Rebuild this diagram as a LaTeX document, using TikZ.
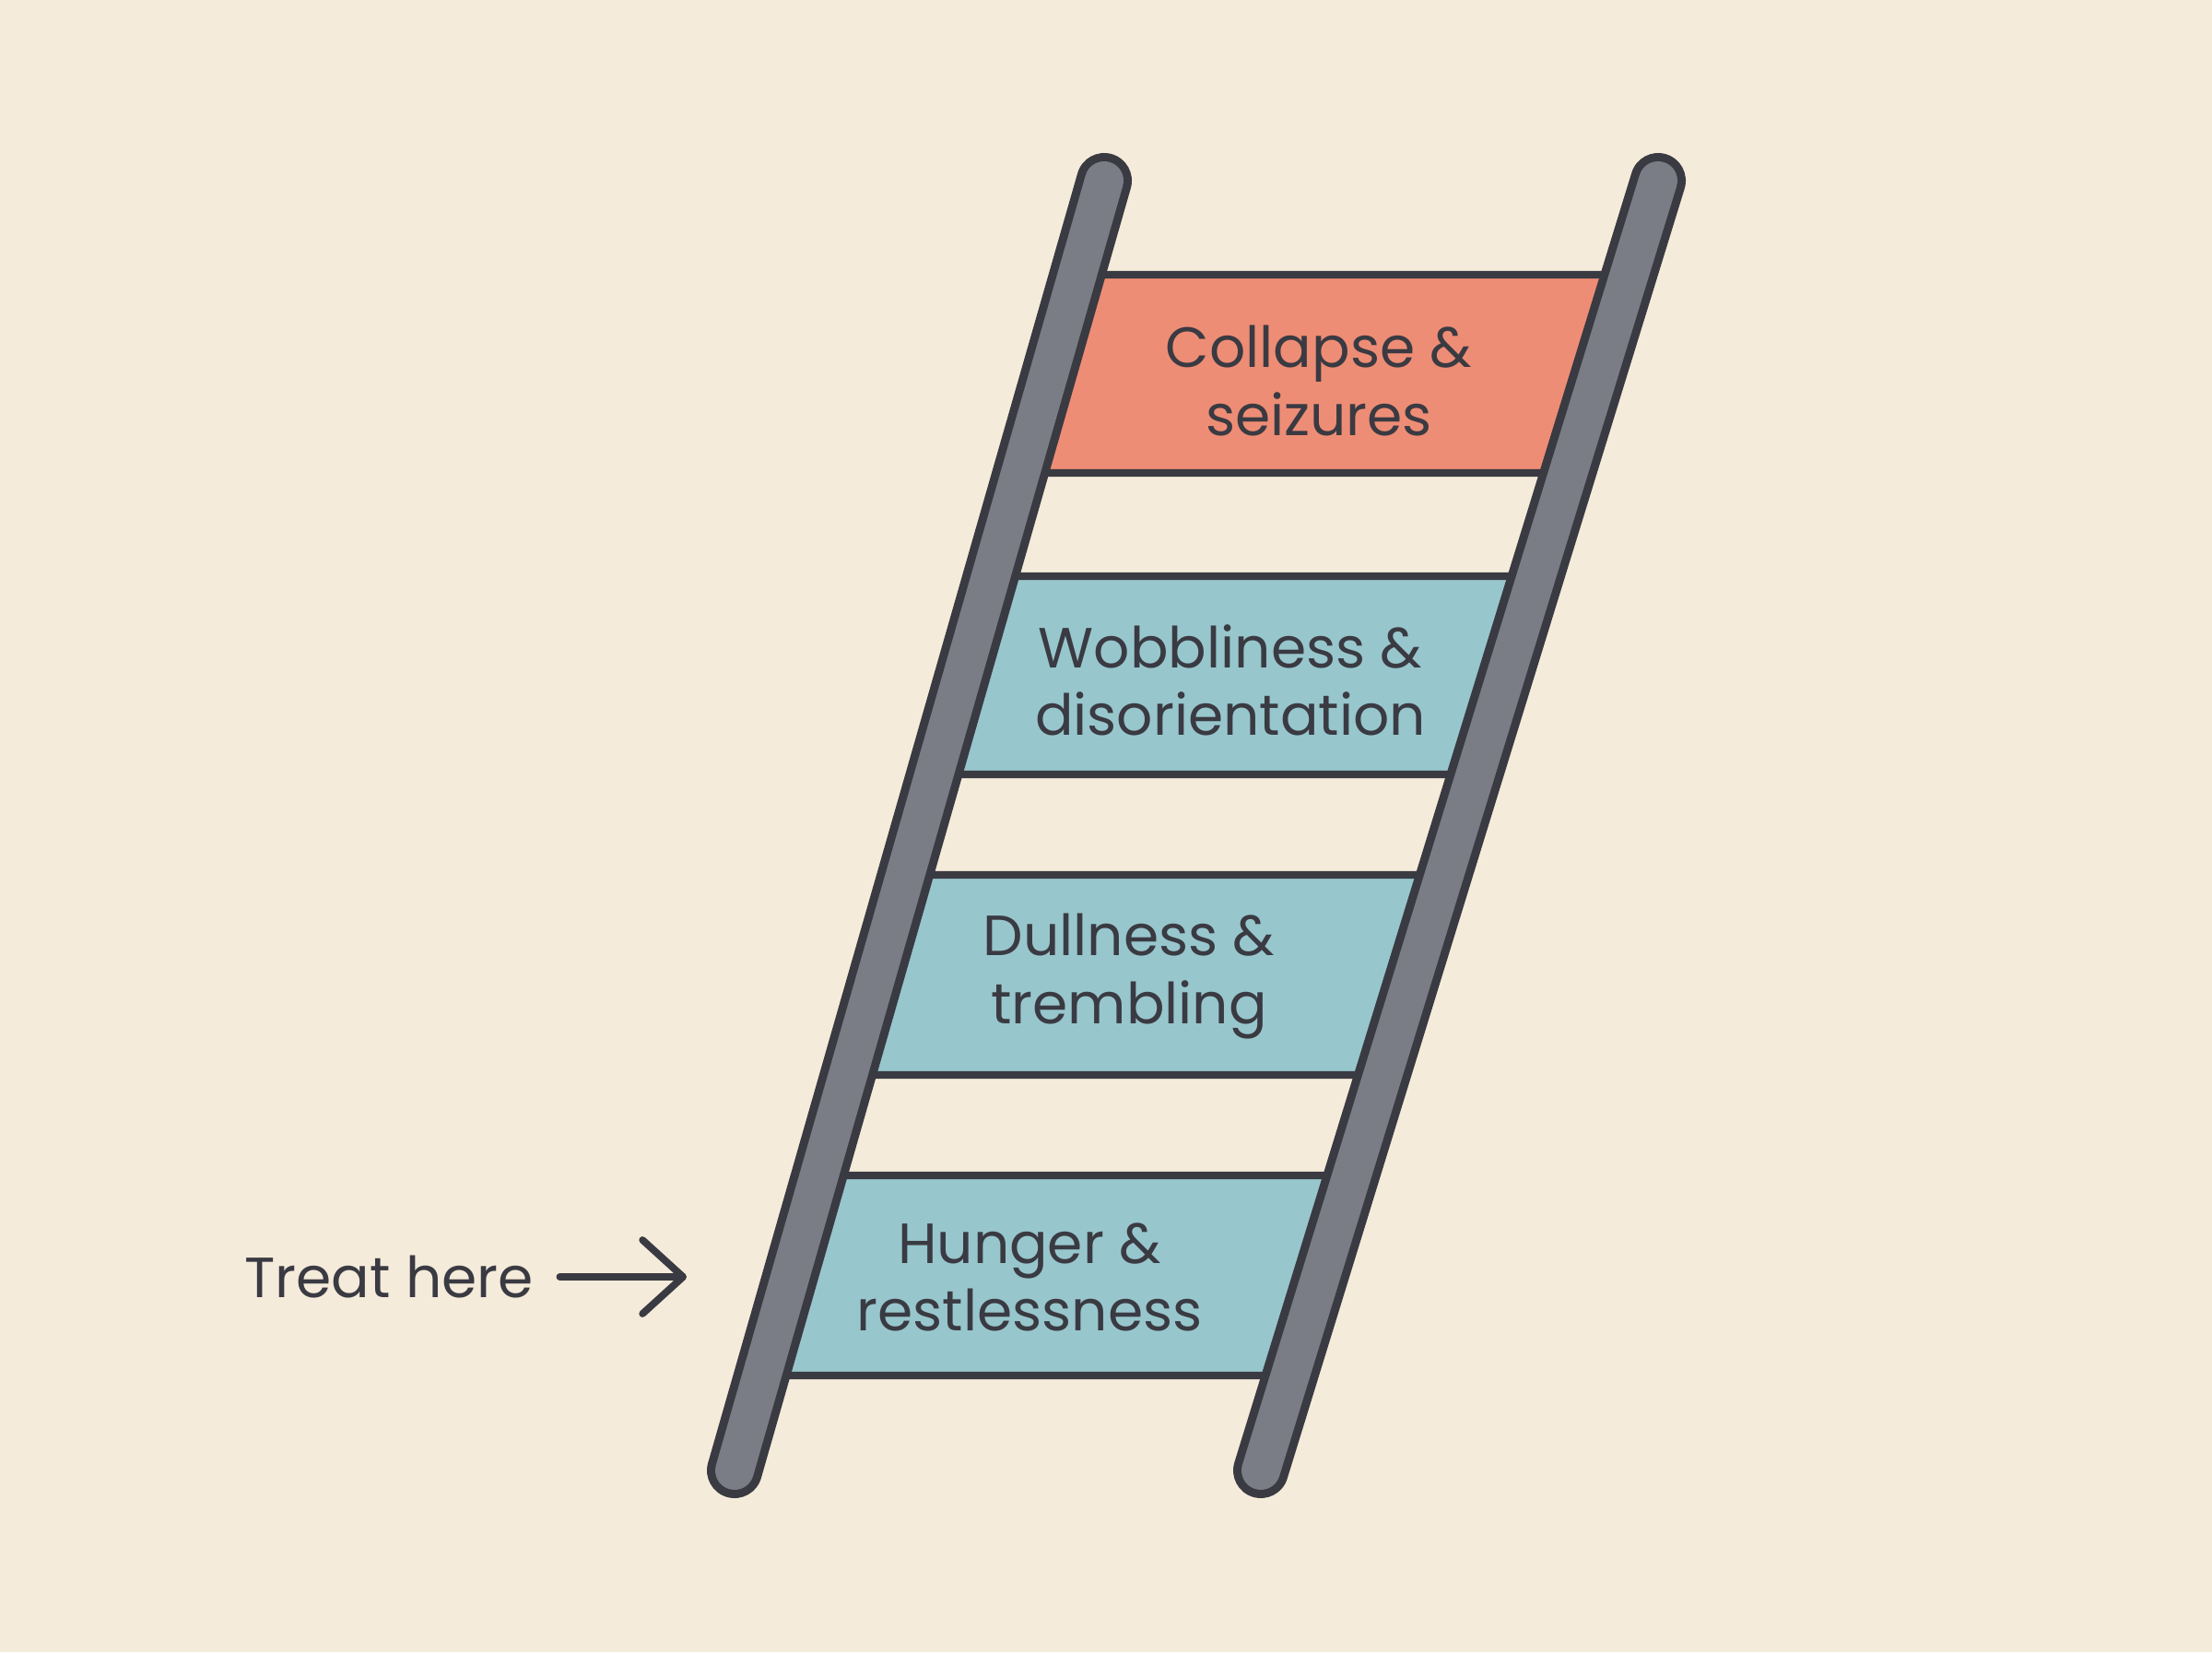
\documentclass[tikz,border=0pt]{standalone}
\usepackage{fontspec}
\setmainfont{Poppins}
\usepackage{tikz}
\usetikzlibrary{calc,arrows.meta}

\definecolor{cream}{HTML}{F5EBDA}
\definecolor{ink}{HTML}{3A3A42}
\definecolor{railgray}{HTML}{7A7C86}
\definecolor{salmon}{HTML}{EE8D75}
\definecolor{teal}{HTML}{98C6CD}

\begin{document}
\begin{tikzpicture}[
  font=\fontsize{17.5}{20.8}\selectfont,
  label/.style={
    text=ink,
    align=center,
    inner sep=0pt
  },
  rung/.style={draw=ink, line width=2.4pt, line join=miter},
  railout/.style={draw=ink, line width=0.6cm, line cap=round},
  railin/.style={draw=railgray, line width=0.42cm, line cap=round},
  pointer/.style={draw=ink, line width=2.2pt, line cap=round,
    -{Straight Barb[length=4.4mm, width=8cm/10, round]}}
]
\fill[cream] (0,0) rectangle (24,17.92);
\useasboundingbox (0,0) rectangle (24,17.92);

% rail ends
\coordinate (lbot) at (7.97,1.97);
\coordinate (ltop) at (11.98,15.96);
\coordinate (rbot) at (13.68,1.97);
\coordinate (rtop) at (17.99,15.96);

% rungs, spanning the rail centre lines
\foreach \ya/\yb/\fillc in {14.94/12.79/salmon, 11.67/9.52/teal, 8.43/6.26/teal, 5.17/3.00/teal}
  \draw[rung, fill=\fillc]
    ($(lbot)!{(\ya-1.97)/13.99}!(ltop)$) -- ($(rbot)!{(\ya-1.97)/13.99}!(rtop)$)
    -- ($(rbot)!{(\yb-1.97)/13.99}!(rtop)$) -- ($(lbot)!{(\yb-1.97)/13.99}!(ltop)$) -- cycle;

% rails on top
\draw[railout] (lbot) -- (ltop);
\draw[railin] (lbot) -- (ltop);
\draw[railout] (rbot) -- (rtop);
\draw[railin] (rbot) -- (rtop);

\node[label] (collapse) at (14.31,13.79) {Collapse \&\\seizures};
\node[label] (wobbly) at (13.35,10.54) {Wobbliness \&\\disorientation};
\node[label] (dull) at (12.25,7.33) {Dullness \&\\trembling};
\node[label] (hunger) at (11.17,4.07) {Hunger \&\\restlessness};

\node[label] (treat) at (4.22,4.07) {Treat here};
\coordinate (aim) at (7.45,4.07);
\draw[pointer, shorten <=0.28cm] (treat.east) -- (aim);
\end{tikzpicture}
\end{document}
